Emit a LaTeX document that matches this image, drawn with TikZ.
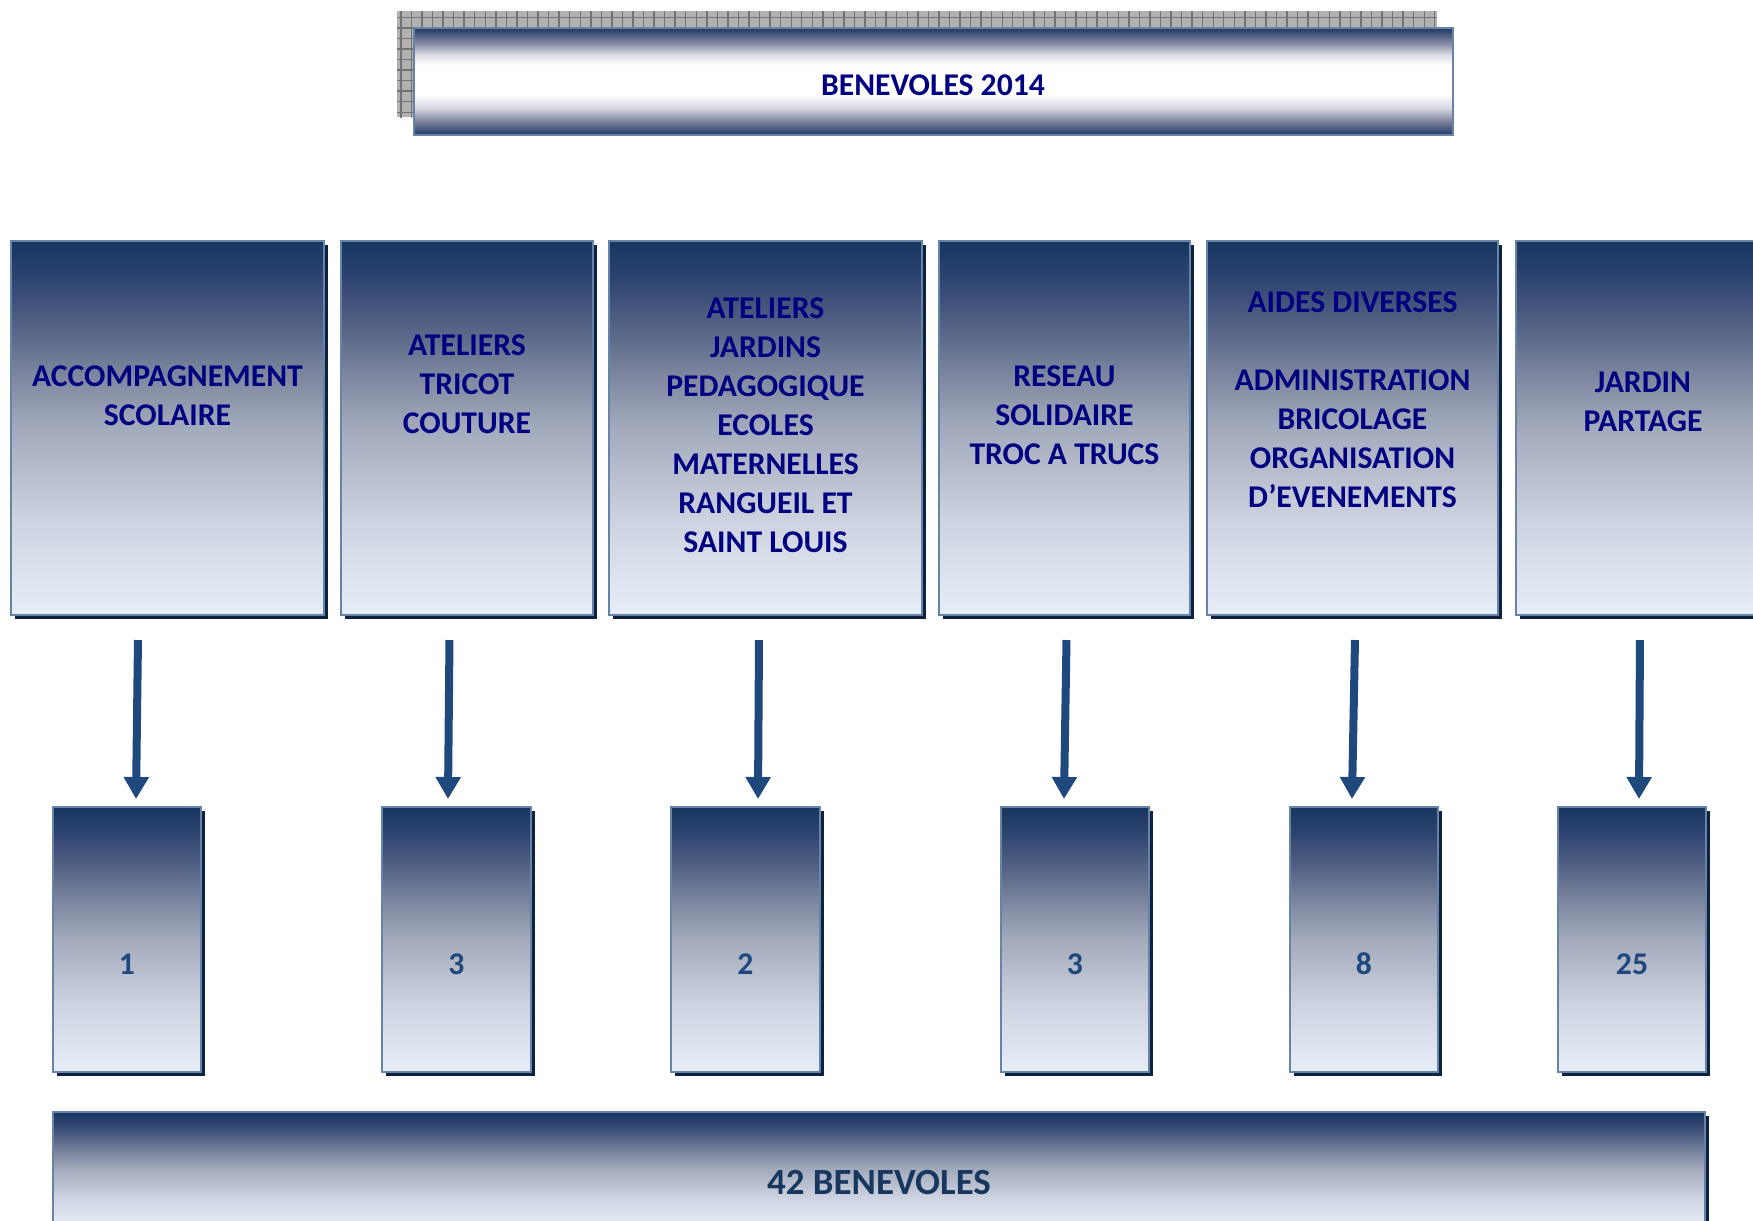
\documentclass[tikz,border=0pt]{standalone}
\usepackage{fontspec}
\setmainfont{Carlito}
\usetikzlibrary{arrows.meta,shadows,patterns,fit}

\definecolor{navytxt}{HTML}{000080}
\definecolor{numc}{HTML}{1F497D}
\definecolor{bigc}{HTML}{17375E}
\definecolor{arrowc}{HTML}{1F497D}
\definecolor{borderc}{HTML}{6584A7}
\definecolor{shadowc}{HTML}{0E2141}
\definecolor{gA}{HTML}{17365F}
\definecolor{gB}{HTML}{2E4470}
\definecolor{gC}{HTML}{5A6889}
\definecolor{gD}{HTML}{7B849D}
\definecolor{gE}{HTML}{A3AABC}
\definecolor{gF}{HTML}{CDD3E0}
\definecolor{gG}{HTML}{E8EEF8}
\definecolor{tA}{HTML}{1F3864}
\definecolor{tB}{HTML}{8A8FA6}
\definecolor{tC}{HTML}{DCDDE5}
\definecolor{tD}{HTML}{D6D7E0}
\definecolor{tE}{HTML}{7E839C}

\pgfdeclareverticalshading{boxshade}{100bp}{color(0bp)=(gG); color(25bp)=(gG); color(37.5bp)=(gF); color(50bp)=(gE); color(57.5bp)=(gD); color(62.5bp)=(gC); color(70bp)=(gB); color(75bp)=(gA); color(100bp)=(gA)}
\pgfdeclareverticalshading{titleshade}{100bp}{color(0bp)=(tA); color(25bp)=(tA); color(31.5bp)=(tE); color(37.5bp)=(tD); color(44bp)=(white); color(57.5bp)=(white); color(62.5bp)=(tC); color(67.5bp)=(tB); color(75bp)=(tA); color(100bp)=(tA)}

\begin{document}
\begin{tikzpicture}[x=0.01cm,y=-0.01cm,
  gbox/.style={inner sep=0pt, outer sep=0pt, draw=borderc, line width=0.5pt,
    shade, shading=boxshade,
    drop shadow={shadow xshift=0.04cm, shadow yshift=-0.04cm, fill=shadowc, opacity=1}},
  titlebox/.style={inner sep=0pt, outer sep=0pt, draw=borderc, line width=0.4pt,
    shade, shading=titleshade},
  gridshadow/.style={inner sep=0pt, outer sep=0pt, fill=gray!60,
    postaction={pattern=grid, pattern color=black!55}},
  toptext/.style={align=center, inner sep=0pt, text=navytxt,
    font=\bfseries\fontsize{9}{11.1}\selectfont},
  numtext/.style={inner sep=0pt, text=numc, font=\bfseries\fontsize{9}{11}\selectfont},
  arr/.style={draw=arrowc, line width=0.08cm, -{Triangle[width=0.24cm,length=0.22cm]}}
]
\useasboundingbox (0,0) rectangle (1753,1220);
\clip (0,0) rectangle (1753,1220);

% title
\node[gridshadow, fit={(397,11) (1437,117)}] (tshadow) {};
\node[titlebox, fit={(414,28) (1453,135)}] (title) {};
\node[toptext] (titletxt) at (933,85) {BENEVOLES 2014};

% top boxes
\node[gbox, fit={(11,241) (324,615)}] (t1) {};
\node[gbox, fit={(341,241) (593,615)}] (t2) {};
\node[gbox, fit={(609,241) (922,615)}] (t3) {};
\node[gbox, fit={(939,241) (1190,615)}] (t4) {};
\node[gbox, fit={(1207,241) (1498,615)}] (t5) {};
\node[gbox, fit={(1516,241) (1790,615)}] (t6) {};

\node[toptext] (t1txt) at (167.5,395.5) {ACCOMPAGNEMENT\\SCOLAIRE};
\node[toptext] (t2txt) at (467,384.6) {ATELIERS\\TRICOT\\COUTURE};
\node[toptext] (t3txt) at (765.5,424.9) {ATELIERS\\JARDINS\\PEDAGOGIQUE\\ECOLES\\MATERNELLES\\RANGUEIL ET\\SAINT LOUIS};
\node[toptext] (t4txt) at (1064.5,414.8) {RESEAU\\SOLIDAIRE\\TROC A TRUCS};
\node[toptext] (t5txt) at (1352.5,399.7) {AIDES DIVERSES\\[11.1pt]ADMINISTRATION\\BRICOLAGE\\ORGANISATION\\D’EVENEMENTS};
\node[toptext] (t6txt) at (1643,401.4) {JARDIN\\PARTAGE};

% bottom boxes
\node[gbox, fit={(53,807) (201,1072)}] (b1) {};
\node[gbox, fit={(382,807) (531,1072)}] (b2) {};
\node[gbox, fit={(671,807) (820,1072)}] (b3) {};
\node[gbox, fit={(1001,807) (1149,1072)}] (b4) {};
\node[gbox, fit={(1290,807) (1438,1072)}] (b5) {};
\node[gbox, fit={(1558,807) (1706,1072)}] (b6) {};

\node[numtext] (n1) at (127,964) {1};
\node[numtext] (n2) at (456.5,964) {3};
\node[numtext] (n3) at (745.5,964) {2};
\node[numtext] (n4) at (1075,964) {3};
\node[numtext] (n5) at (1364,964) {8};
\node[numtext] (n6) at (1632,964) {25};

% arrows
\draw[arr] ([xshift=-0.295cm,yshift=-0.25cm]t1.south) -- ([xshift=0.09cm,yshift=0.08cm]b1.north);
\draw[arr] ([xshift=-0.175cm,yshift=-0.25cm]t2.south) -- ([xshift=-0.085cm,yshift=0.08cm]b2.north);
\draw[arr] ([xshift=-0.065cm,yshift=-0.25cm]t3.south) -- ([xshift=0.125cm,yshift=0.08cm]b3.north);
\draw[arr] ([xshift=0.02cm,yshift=-0.25cm]t4.south) -- ([xshift=-0.11cm,yshift=0.08cm]b4.north);
\draw[arr] ([xshift=0.025cm,yshift=-0.25cm]t5.south) -- ([xshift=-0.12cm,yshift=0.08cm]b5.north);
\draw[arr] ([xshift=-0.13cm,yshift=-0.25cm]t6.south) -- ([xshift=0.07cm,yshift=0.08cm]b6.north);

% total
\node[gbox, fit={(53,1112) (1705,1226)}] (total) {};
\node[inner sep=0pt, text=bigc, font=\bfseries\fontsize{10.5}{12}\selectfont] (totaltxt) at (879,1183) {42 BENEVOLES};
\end{tikzpicture}
\end{document}
